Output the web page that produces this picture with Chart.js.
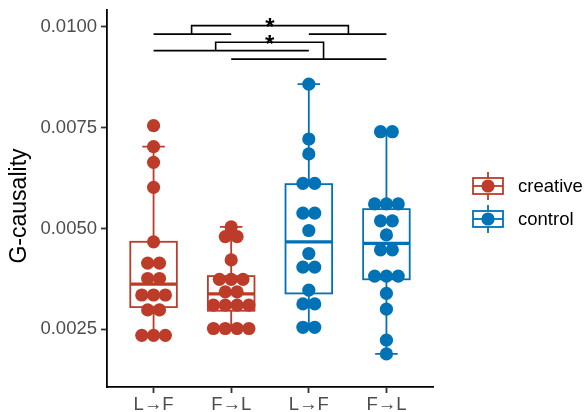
<!DOCTYPE html>
<html><head><meta charset="utf-8">
<script src="https://cdn.jsdelivr.net/npm/chart.js@4.4.1/dist/chart.umd.min.js"></script>
<style>html,body{margin:0;padding:0;background:#fff;}#wrap{width:585px;height:412px;}</style>
</head><body><div id="wrap"><canvas id="c" width="585" height="412"></canvas></div>
<script>
// ---- data ----
const categories = ['L\u2192F', 'F\u2192L', 'L\u2192F', 'F\u2192L'];
const groupSeries = ['creative', 'creative', 'control', 'control'];
const seriesNames = ['creative', 'control'];
const seriesColors = ['#BC3C29', '#0072B5'];
const creativeLF = [0.00755,0.00703,0.00664,0.00602,0.00467,0.00414,0.00414,0.00376,0.00376,0.00335,0.00335,0.00335,0.00298,0.00298,0.00235,0.00235,0.00235];
const creativeFL = [0.00504,0.0048,0.0048,0.00422,0.00374,0.00374,0.00374,0.00343,0.00343,0.0031,0.0031,0.0031,0.0031,0.00252,0.00252,0.00252,0.00252];
const controlLF = [0.00858,0.00722,0.00685,0.00612,0.00612,0.00538,0.00538,0.00495,0.00438,0.00404,0.00404,0.00347,0.00313,0.00313,0.00255,0.00255];
const controlFL = [0.0074,0.0074,0.00561,0.00561,0.00561,0.00519,0.00519,0.00484,0.00447,0.00447,0.00382,0.00382,0.00382,0.00339,0.0030,0.00223,0.00189];
const boxQ1 = [0.00305,0.00296,0.00339,0.00374];
const boxMedian = [0.00362,0.00338,0.00467,0.00463];
const boxQ3 = [0.00467,0.00382,0.0061,0.00548];
const whiskerLow = [0.00235,0.00252,0.00255,0.00189];
const whiskerHigh = [0.00703,0.00504,0.00858,0.0074];
const yTicks = [0.0025, 0.0050, 0.0075, 0.0100];
const yTitle = 'G-causality';
// significance brackets (category-index x, value y)
const bracketFrom = [0.49, 0.8];
const bracketTo = [2.51, 2.19];
const bracketTop = [0.01003, 0.00962];
const bracketLeftEnd = [0.00982, 0.00941];
const bracketRightEnd = [0.00982, 0.0092];
const bracketLabels = ['*', '*'];
const pairFrom = [0, 2, 0, 1];
const pairTo = [1, 3, 2, 3];
const pairY = [0.00982, 0.00982, 0.00941, 0.0092];

const groups = [creativeLF, creativeFL, controlLF, controlFL];
const FONT = "'Liberation Sans', Arial, sans-serif";
const dotStep = 0.152;

function stackOffsets(values) {
  const counts = {}, seen = {};
  values.forEach(v => counts[v] = (counts[v] || 0) + 1);
  return values.map(v => { const n = counts[v]; const k = (seen[v] = (seen[v] || 0) + 1) - 1; return (k - (n - 1) / 2) * dotStep; });
}

const datasets = seriesNames.map((s, si) => {
  const pts = [];
  groups.forEach((vals, gi) => {
    if (groupSeries[gi] !== s) return;
    const off = stackOffsets(vals);
    vals.forEach((v, j) => pts.push({ x: gi + off[j], y: v }));
  });
  return { label: s, data: pts, backgroundColor: seriesColors[si], borderWidth: 0, pointRadius: 6.6, pointHoverRadius: 6.6 };
});

const colorOf = gi => seriesColors[seriesNames.indexOf(groupSeries[gi])];

const boxPlugin = {
  id: 'box',
  beforeDatasetsDraw(chart) {
    const { ctx, scales: { x, y } } = chart;
    ctx.save();
    groups.forEach((vals, i) => {
      const c = colorOf(i);
      const cx = x.getPixelForValue(i);
      const hw = x.getPixelForValue(i + 0.3) - cx;
      const cw = x.getPixelForValue(i + 0.145) - cx;
      const q1 = y.getPixelForValue(boxQ1[i]), q3 = y.getPixelForValue(boxQ3[i]);
      const md = y.getPixelForValue(boxMedian[i]);
      const wl = y.getPixelForValue(whiskerLow[i]), wh = y.getPixelForValue(whiskerHigh[i]);
      ctx.strokeStyle = c; ctx.lineWidth = 1.8;
      ctx.beginPath();
      ctx.moveTo(cx, wh); ctx.lineTo(cx, q3);
      ctx.moveTo(cx, q1); ctx.lineTo(cx, wl);
      ctx.moveTo(cx - cw, wh); ctx.lineTo(cx + cw, wh);
      ctx.moveTo(cx - cw, wl); ctx.lineTo(cx + cw, wl);
      ctx.stroke();
      ctx.fillStyle = '#fff';
      ctx.fillRect(cx - hw, q3, 2 * hw, q1 - q3);
      ctx.strokeRect(cx - hw, q3, 2 * hw, q1 - q3);
      ctx.lineWidth = 3.2;
      ctx.beginPath(); ctx.moveTo(cx - hw, md); ctx.lineTo(cx + hw, md); ctx.stroke();
    });
    ctx.restore();
  }
};

const annoPlugin = {
  id: 'anno',
  afterDraw(chart) {
    const { ctx, scales: { x, y } } = chart;
    ctx.save();
    ctx.strokeStyle = '#000'; ctx.lineWidth = 1.6;
    ctx.beginPath();
    pairFrom.forEach((f, i) => {
      const py = y.getPixelForValue(pairY[i]);
      ctx.moveTo(x.getPixelForValue(f), py); ctx.lineTo(x.getPixelForValue(pairTo[i]), py);
    });
    bracketFrom.forEach((f, i) => {
      const x1 = x.getPixelForValue(f), x2 = x.getPixelForValue(bracketTo[i]);
      const yt = y.getPixelForValue(bracketTop[i]);
      ctx.moveTo(x1, y.getPixelForValue(bracketLeftEnd[i])); ctx.lineTo(x1, yt); ctx.lineTo(x2, yt);
      ctx.lineTo(x2, y.getPixelForValue(bracketRightEnd[i]));
    });
    ctx.stroke();
    ctx.fillStyle = '#000';
    ctx.font = 'bold 24px ' + FONT; ctx.textAlign = 'center'; ctx.textBaseline = 'middle';
    bracketFrom.forEach((f, i) => {
      const xm = (x.getPixelForValue(f) + x.getPixelForValue(bracketTo[i])) / 2;
      ctx.fillText(bracketLabels[i], xm, y.getPixelForValue(bracketTop[i]) + 3);
    });
    // y title
    ctx.save();
    ctx.translate(20, 206); ctx.rotate(-Math.PI / 2);
    ctx.font = '23px ' + FONT; ctx.fillStyle = '#000';
    ctx.fillText(yTitle, 0, 0);
    ctx.restore();
    // legend
    seriesNames.forEach((s, i) => {
      const cx = 488, cy = 186 + i * 33, c = seriesColors[i];
      ctx.strokeStyle = c; ctx.lineWidth = 1.8;
      ctx.beginPath();
      ctx.moveTo(cx, cy - 14); ctx.lineTo(cx, cy - 8);
      ctx.moveTo(cx, cy + 8); ctx.lineTo(cx, cy + 14);
      ctx.stroke();
      ctx.fillStyle = '#fff'; ctx.fillRect(cx - 15, cy - 8, 30, 16);
      ctx.strokeRect(cx - 15, cy - 8, 30, 16);
      ctx.beginPath(); ctx.moveTo(cx - 15, cy); ctx.lineTo(cx + 15, cy); ctx.stroke();
      ctx.fillStyle = c; ctx.beginPath(); ctx.arc(cx, cy, 6.6, 0, Math.PI * 2); ctx.fill();
      ctx.fillStyle = '#000'; ctx.font = '18.5px ' + FONT; ctx.textAlign = 'left'; ctx.textBaseline = 'middle';
      ctx.fillText(s, 518, cy + 1);
    });
    ctx.restore();
  }
};

new Chart(document.getElementById('c'), {
  type: 'scatter',
  data: { datasets },
  options: {
    responsive: false, animation: false, devicePixelRatio: 1,
    layout: { padding: { left: 0, right: 152, top: 9.5, bottom: 0 } },
    plugins: { legend: { display: false }, tooltip: { enabled: false } },
    events: [],
    scales: {
      x: {
        type: 'linear', min: -0.6, max: 3.6,
        afterBuildTicks: s => { s.ticks = categories.map((c, i) => ({ value: i })); },
        afterFit: s => { s.height = 25; s.paddingLeft = 0; s.paddingRight = 0; },
        ticks: { callback: (v) => categories[Math.round(v)], font: { family: FONT, size: 18.5 }, color: '#4D4D4D', padding: 1, maxRotation: 0, autoSkip: false },
        grid: { drawOnChartArea: false, drawTicks: true, tickLength: 6, tickWidth: 1.8, tickColor: '#333' },
        border: { display: true, color: '#000', width: 1.8 }
      },
      y: {
        min: 0.001069, max: 0.010431,
        afterBuildTicks: s => { s.ticks = yTicks.map(v => ({ value: v })); },
        afterFit: s => { s.width = 107; s.paddingTop = 0; s.paddingBottom = 0; },
        ticks: { callback: v => v.toFixed(4), font: { family: FONT, size: 18.5 }, color: '#4D4D4D', padding: 4 },
        grid: { drawOnChartArea: false, drawTicks: true, tickLength: 6, tickWidth: 1.8, tickColor: '#333' },
        border: { display: true, color: '#000', width: 1.8 }
      }
    }
  },
  plugins: [boxPlugin, annoPlugin]
});
</script></body></html>
